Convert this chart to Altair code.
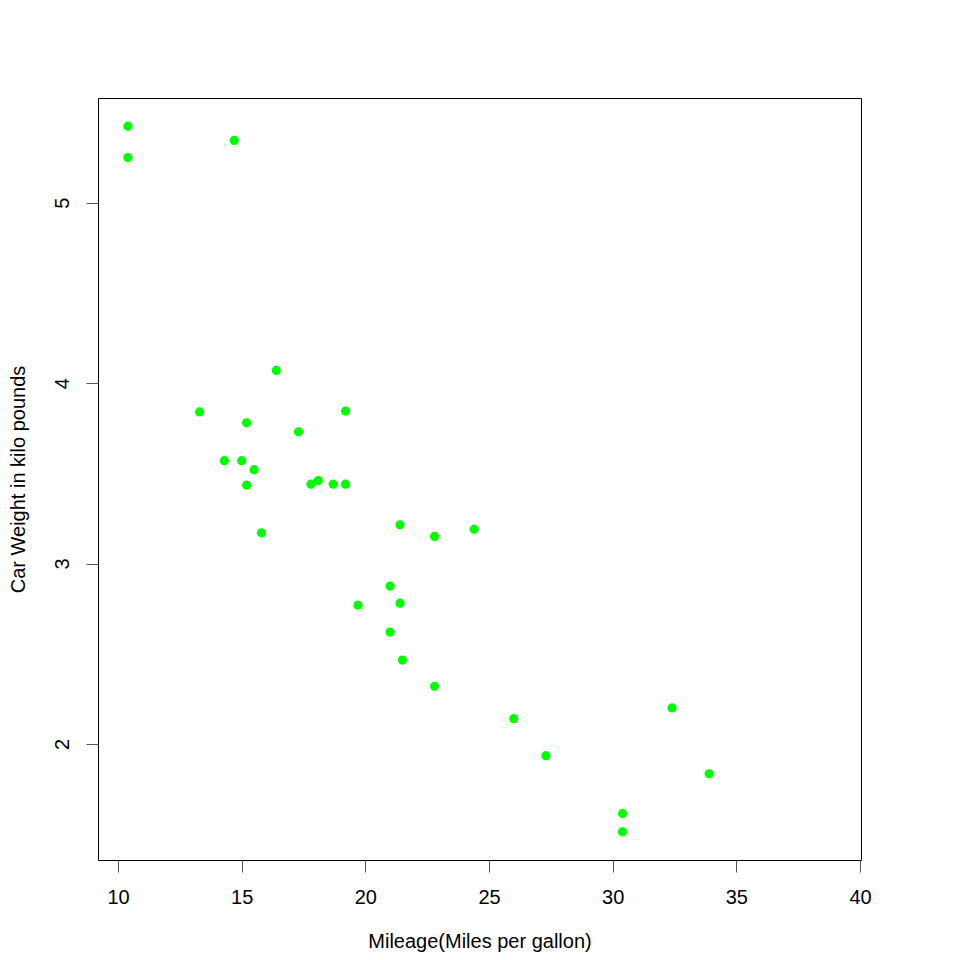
import altair as alt
import pandas as pd

mpg = [21.0, 21.0, 22.8, 21.4, 18.7, 18.1, 14.3, 24.4, 22.8, 19.2, 17.8, 16.4,
       17.3, 15.2, 10.4, 10.4, 14.7, 32.4, 30.4, 33.9, 21.5, 15.5, 15.2, 13.3,
       19.2, 27.3, 26.0, 30.4, 15.8, 19.7, 15.0, 21.4]
wt = [2.620, 2.875, 2.320, 3.215, 3.440, 3.460, 3.570, 3.190, 3.150, 3.440,
      3.440, 4.070, 3.730, 3.780, 5.250, 5.424, 5.345, 2.200, 1.615, 1.835,
      2.465, 3.520, 3.435, 3.840, 3.845, 1.935, 2.140, 1.513, 3.170, 2.770,
      3.570, 2.780]
x_ticks = [10, 15, 20, 25, 30, 35, 40]
y_ticks = [2, 3, 4, 5]

df = pd.DataFrame({"mpg": mpg, "wt": wt})

font = "Liberation Sans"

chart = alt.Chart(df).mark_circle(size=85, color="#00FF00", opacity=1).encode(
    x=alt.X("mpg:Q", scale=alt.Scale(domain=[9.19, 40.04], nice=False, zero=False),
            axis=alt.Axis(values=x_ticks, title="Mileage(Miles per gallon)", grid=False,
                          domain=False, tickColor="#555555", tickSize=12,
                          labelFontSize=20, labelColor="black", labelFont=font,
                          labelFlush=False, labelOverlap=False,
                          labelPadding=15, titleFontSize=20, titleFont=font,
                          titleFontWeight="normal", titleColor="black", titlePadding=24)),
    y=alt.Y("wt:Q", scale=alt.Scale(domain=[1.357, 5.580], nice=False, zero=False),
            axis=alt.Axis(values=y_ticks, title="Car Weight in kilo pounds", grid=False,
                          domain=False, tickColor="#555555", tickSize=12,
                          labelFontSize=20, labelColor="black", labelFont=font,
                          labelFlush=False, labelOverlap=False,
                          labelAngle=270, labelAlign="center", labelBaseline="bottom",
                          labelPadding=14, titleFontSize=20, titleFont=font,
                          titleFontWeight="normal", titleColor="black", titlePadding=24)),
).properties(
    width=763, height=762,
    autosize=alt.AutoSizeParams(type="none"),
    padding={"left": 90, "top": 90, "right": 20, "bottom": 92},
).configure(background="white").configure_view(stroke="black", strokeWidth=1)

chart.save("out.html", embed_options={"renderer": "svg", "actions": False})
